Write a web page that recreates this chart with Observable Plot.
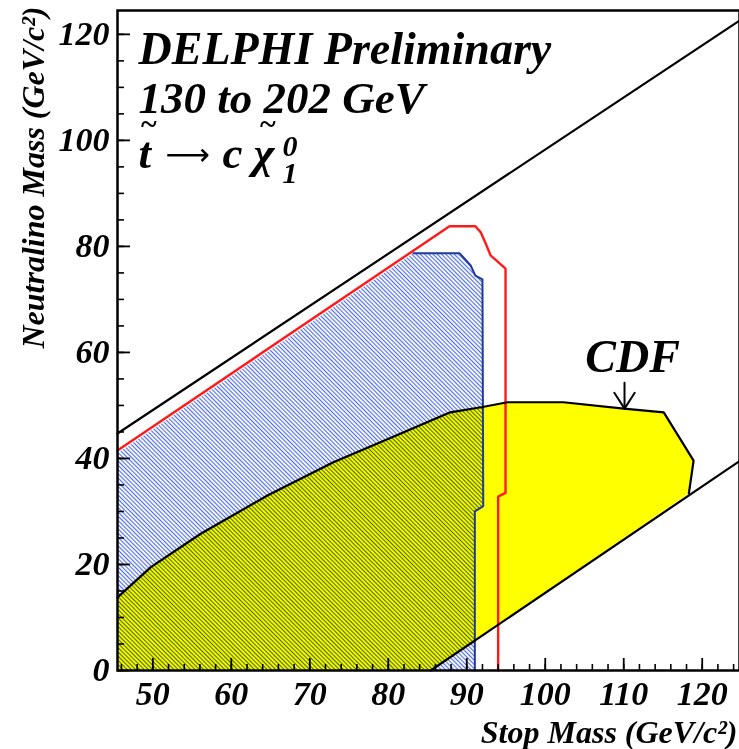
<!DOCTYPE html>
<html>
<head>
<meta charset="utf-8">
<script src="https://cdn.jsdelivr.net/npm/d3@7"></script>
<script src="https://cdn.jsdelivr.net/npm/@observablehq/plot@0.6"></script>
<style>
  html, body { margin: 0; padding: 0; background: white; }
</style>
</head>
<body>
<svg width="0" height="0" style="position:absolute">
  <defs>
    <pattern id="blueHatch" patternUnits="userSpaceOnUse" width="3" height="3" patternTransform="rotate(-45)">
      <rect x="0" y="0" width="3" height="3" fill="#f1f4ff"></rect>
      <rect x="0" y="0" width="0.95" height="3" fill="#4867e0"></rect>
    </pattern>
  </defs>
</svg>
<div id="chart"></div>
<script>
// Axis domains
const xDomain = [45.5, 124.75];
const yDomain = [0, 124.5];

// Tick values
const xMajor = [50, 60, 70, 80, 90, 100, 110, 120];
const xMinor = d3.range(46, 125, 2);
const yMajor = [0, 20, 40, 60, 80, 100, 120];
const yMinor = d3.range(0, 125, 5);

// Kinematic limit (upper black line) and lower black line
const kinX = [45.5, 124.75];
const kinY = [44.7, 122.6];
const lowX = [85.4, 124.75];
const lowY = [0, 39.5];

// CDF excluded region (boundary curve)
const cdfX = [45.5, 49.75, 56.1, 64.6, 73.0, 81.6, 87.9, 92.0, 95.2, 102.3, 110.0, 115.1, 118.9, 118.3];
const cdfY = [13.8, 19.5, 25.8, 33.0, 39.3, 44.7, 48.7, 49.7, 50.6, 50.6, 49.4, 48.7, 39.6, 33.4];
// closing along the lower line and x axis
const cdfCloseX = [85.4, 45.5];
const cdfCloseY = [0, 0];

// DELPHI observed (blue hatched) region
const blueX = [45.5, 83.2, 89.1, 90.5, 91.1, 92.0, 92.1, 91.03, 91.03, 45.5];
const blueY = [41.0, 78.7, 78.7, 76.4, 74.5, 73.8, 31.0, 30.0, 0, 0];
// outline of the blue region (top and right side)
const blueEdgeX = [83.2, 89.1, 90.5, 91.1, 92.0, 92.1, 91.03, 91.03];
const blueEdgeY = [78.7, 78.7, 76.4, 74.5, 73.8, 31.0, 30.0, 0];

// DELPHI expected (red) contour
const redX = [45.5, 87.8, 91.1, 91.76, 92.4, 93.03, 94.05, 94.94, 94.94, 94.0, 94.0];
const redY = [41.5, 83.8, 83.8, 82.7, 80.6, 78.3, 77.0, 75.8, 33.5, 32.8, 0];

// CDF label and arrow
const cdfLabel = [{x: 105.1, y: 59.0, text: "CDF"}];
const arrowShaftX = [110.1, 110.1];
const arrowShaftY = [54.3, 49.4];
const arrowHeadX = [108.8, 110.1, 111.4];
const arrowHeadY = [52.4, 49.4, 52.4];

const pts = (xs, ys) => xs.map((x, i) => ({x, y: ys[i]}));

const font = "'Liberation Serif', 'Times New Roman', serif";
const T = (txt, dx, dy, size, extra = {}) =>
  Plot.text([txt], {frameAnchor: "top-left", lineAnchor: "middle", textAnchor: "start", dx, dy, fontSize: size, fill: "black", ...extra});

const chart = Plot.plot({
  width: 739,
  height: 749,
  marginLeft: 117,
  marginRight: 0,
  marginTop: 10,
  marginBottom: 79,
  x: {domain: xDomain},
  y: {domain: yDomain},
  style: {background: "white", fontFamily: font, fontStyle: "italic", fontWeight: "bold", color: "black"},
  marks: [
    // CDF yellow region
    Plot.line(pts(cdfX.concat(cdfCloseX), cdfY.concat(cdfCloseY)), {x: "x", y: "y", fill: "#ffff00", stroke: "none"}),
    // blue hatched region
    Plot.line(pts(blueX, blueY), {x: "x", y: "y", fill: "url(#blueHatch)", stroke: "none", mixBlendMode: "multiply"}),
    Plot.line(pts(blueEdgeX, blueEdgeY), {x: "x", y: "y", stroke: "#1d3a9c", strokeWidth: 2}),
    // red contour
    Plot.line(pts(redX, redY), {x: "x", y: "y", stroke: "#ff1a1a", strokeWidth: 2.4}),
    // CDF outline
    Plot.line(pts(cdfX, cdfY), {x: "x", y: "y", stroke: "black", strokeWidth: 2.2}),
    // black diagonals
    Plot.line(pts(kinX, kinY), {x: "x", y: "y", stroke: "black", strokeWidth: 2.2}),
    Plot.line(pts(lowX, lowY), {x: "x", y: "y", stroke: "black", strokeWidth: 2.2}),
    // CDF arrow + label
    Plot.line(pts(arrowShaftX, arrowShaftY), {x: "x", y: "y", stroke: "black", strokeWidth: 2}),
    Plot.line(pts(arrowHeadX, arrowHeadY), {x: "x", y: "y", stroke: "black", strokeWidth: 2}),
    Plot.text(cdfLabel, {x: "x", y: "y", text: "text", fontSize: 46, textAnchor: "start", lineAnchor: "middle", fill: "black"}),
    // Title block
    T("DELPHI Preliminary", 21, 38.6, 46),
    T("130 to 202 GeV", 21, 87.6, 45),
    T("t", 21, 142.6, 45),
    T("~", 31, 114, 30, {textAnchor: "middle"}),
    T("\u27F6", 48, 145, 31, {fontFamily: "'DejaVu Sans', sans-serif", fontStyle: "normal", fontWeight: "normal"}),
    T("c", 105, 142.6, 45),
    T("\u03C7", 136, 142.6, 45),
    T("~", 150, 114, 30, {textAnchor: "middle"}),
    T("0", 165, 135.4, 30),
    T("1", 165, 162.4, 30),
    // axis titles
    Plot.text(["Stop Mass (GeV/c\u00B2)"], {frameAnchor: "bottom-right", lineAnchor: "middle", dx: -2, dy: 62, fontSize: 32, textAnchor: "end", fill: "black"}),
    Plot.text(["Neutralino Mass (GeV/c\u00B2)"], {frameAnchor: "top-left", lineAnchor: "middle", dx: -84, dy: -4, rotate: -90, fontSize: 32, textAnchor: "end", fill: "black"}),
    // axes: inward ticks
    Plot.axisX(xMinor, {anchor: "bottom", tickSize: -6, fill: "none", label: null, strokeWidth: 1.6}),
    Plot.axisX(xMajor, {anchor: "bottom", tickSize: -12, fill: "none", label: null, strokeWidth: 1.8}),
    Plot.axisY(yMinor, {anchor: "left", tickSize: -7, fill: "none", label: null, strokeWidth: 1.6}),
    Plot.axisY(yMajor, {anchor: "left", tickSize: -13, fill: "none", label: null, strokeWidth: 1.8}),
    // axis labels
    Plot.axisX(xMajor, {anchor: "bottom", tickSize: 0, tickPadding: 10, label: null, fontSize: 34, fill: "black"}),
    Plot.axisY(yMajor, {anchor: "left", tickSize: 0, tickPadding: 8, label: null, fontSize: 34, fill: "black"}),
    Plot.frame({stroke: "black", strokeWidth: 2.5})
  ]
});
document.getElementById("chart").appendChild(chart);
</script>
</body>
</html>
